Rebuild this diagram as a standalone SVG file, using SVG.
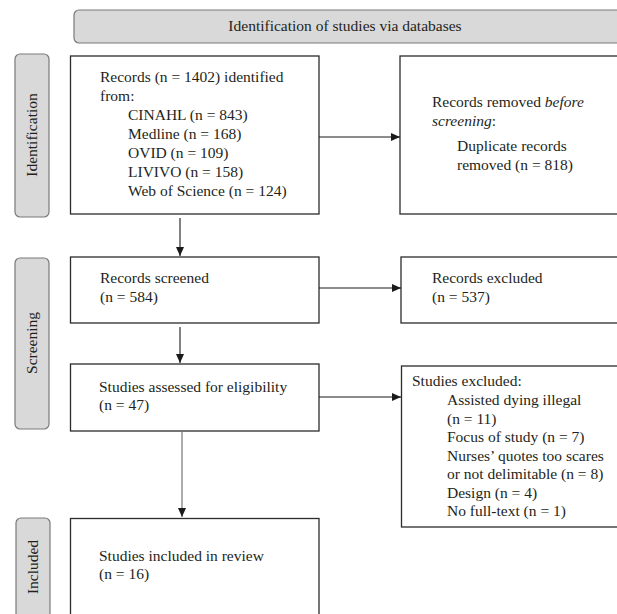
<svg xmlns="http://www.w3.org/2000/svg" width="617" height="614" viewBox="0 0 617 614">
<style>
  .t { font-family: "Liberation Serif", "Times New Roman", serif; font-size: 15.5px; fill: #231f20; }
  .box { fill: #ffffff; stroke: #2b2b2b; stroke-width: 1.3; }
  .phase { fill: #d9d9d9; stroke: #7a7a7a; stroke-width: 1.2; }
  .conn { stroke: #1a1a1a; stroke-width: 1.1; fill: none; }
  .conn2 { stroke: #888888; stroke-width: 1.4; fill: none; }
</style>
<defs>
  <marker id="ah" markerWidth="10" markerHeight="8" refX="9" refY="4" orient="auto" markerUnits="userSpaceOnUse">
    <path d="M0,0 L9,4 L0,8 Z" fill="#1a1a1a"/>
  </marker>
</defs>

<g id="header">
  <rect x="74" y="10" width="560" height="33" rx="5" class="phase"/>
  <text class="t" x="345" y="31" text-anchor="middle">Identification of studies via databases</text>
</g>

<g id="phase-identification">
  <rect x="15" y="54" width="34" height="163" rx="5" class="phase"/>
  <text class="t" transform="translate(37,135) rotate(-90)" text-anchor="middle">Identification</text>
</g>
<g id="phase-screening">
  <rect x="15" y="258" width="34" height="171" rx="5" class="phase"/>
  <text class="t" transform="translate(37,343) rotate(-90)" text-anchor="middle">Screening</text>
</g>
<g id="phase-included">
  <rect x="16" y="518" width="34" height="110" rx="5" class="phase"/>
  <text class="t" transform="translate(38,567) rotate(-90)" text-anchor="middle">Included</text>
</g>

<g id="records-identified">
  <rect x="70.5" y="56" width="248.5" height="158" class="box"/>
  <text class="t" x="100" y="82">Records (n = 1402) identified</text>
  <text class="t" x="100" y="101">from:</text>
  <text class="t" x="128" y="120">CINAHL (n = 843)</text>
  <text class="t" x="128" y="139">Medline (n = 168)</text>
  <text class="t" x="128" y="158">OVID (n = 109)</text>
  <text class="t" x="128" y="177">LIVIVO (n = 158)</text>
  <text class="t" x="128" y="196">Web of Science (n = 124)</text>
</g>

<g id="records-removed">
  <rect x="400" y="56" width="230" height="158" class="box"/>
  <text class="t" x="432" y="107">Records removed <tspan font-style="italic">before</tspan></text>
  <text class="t" x="432" y="126"><tspan font-style="italic">screening</tspan>:</text>
  <text class="t" x="457" y="151">Duplicate records</text>
  <text class="t" x="457" y="170">removed (n = 818)</text>
</g>

<g id="records-screened">
  <rect x="70.5" y="257" width="248.5" height="66" class="box"/>
  <text class="t" x="100" y="283">Records screened</text>
  <text class="t" x="100" y="302">(n = 584)</text>
</g>

<g id="records-excluded">
  <rect x="401" y="257" width="229" height="66" class="box"/>
  <text class="t" x="432" y="283">Records excluded</text>
  <text class="t" x="432" y="302">(n = 537)</text>
</g>

<g id="studies-assessed">
  <rect x="70.5" y="364" width="248.5" height="67" class="box"/>
  <text class="t" x="99" y="392">Studies assessed for eligibility</text>
  <text class="t" x="99" y="410">(n = 47)</text>
</g>

<g id="studies-excluded">
  <rect x="401.5" y="366" width="229" height="161" class="box"/>
  <text class="t" x="412" y="386">Studies excluded:</text>
  <text class="t" x="447" y="405">Assisted dying illegal</text>
  <text class="t" x="447" y="423.5">(n = 11)</text>
  <text class="t" x="447" y="442">Focus of study (n = 7)</text>
  <text class="t" x="447" y="460.5">Nurses’ quotes too scares</text>
  <text class="t" x="447" y="479">or not delimitable (n = 8)</text>
  <text class="t" x="447" y="497.5">Design (n = 4)</text>
  <text class="t" x="447" y="516">No full-text (n = 1)</text>
</g>

<g id="studies-included">
  <rect x="70.5" y="518.5" width="248.5" height="110" class="box"/>
  <text class="t" x="99" y="561">Studies included in review</text>
  <text class="t" x="99" y="579">(n = 16)</text>
</g>

<g id="connectors">
  <line x1="319" y1="137" x2="400" y2="137" class="conn" marker-end="url(#ah)"/>
  <line x1="180" y1="218" x2="180" y2="256" class="conn" marker-end="url(#ah)"/>
  <line x1="319" y1="288" x2="401" y2="288" class="conn" marker-end="url(#ah)"/>
  <line x1="180" y1="327" x2="180" y2="363" class="conn" marker-end="url(#ah)"/>
  <line x1="319" y1="397" x2="401" y2="397" class="conn" marker-end="url(#ah)"/>
  <line x1="182" y1="432" x2="182" y2="517" class="conn2" marker-end="url(#ah)"/>
</g>
</svg>
